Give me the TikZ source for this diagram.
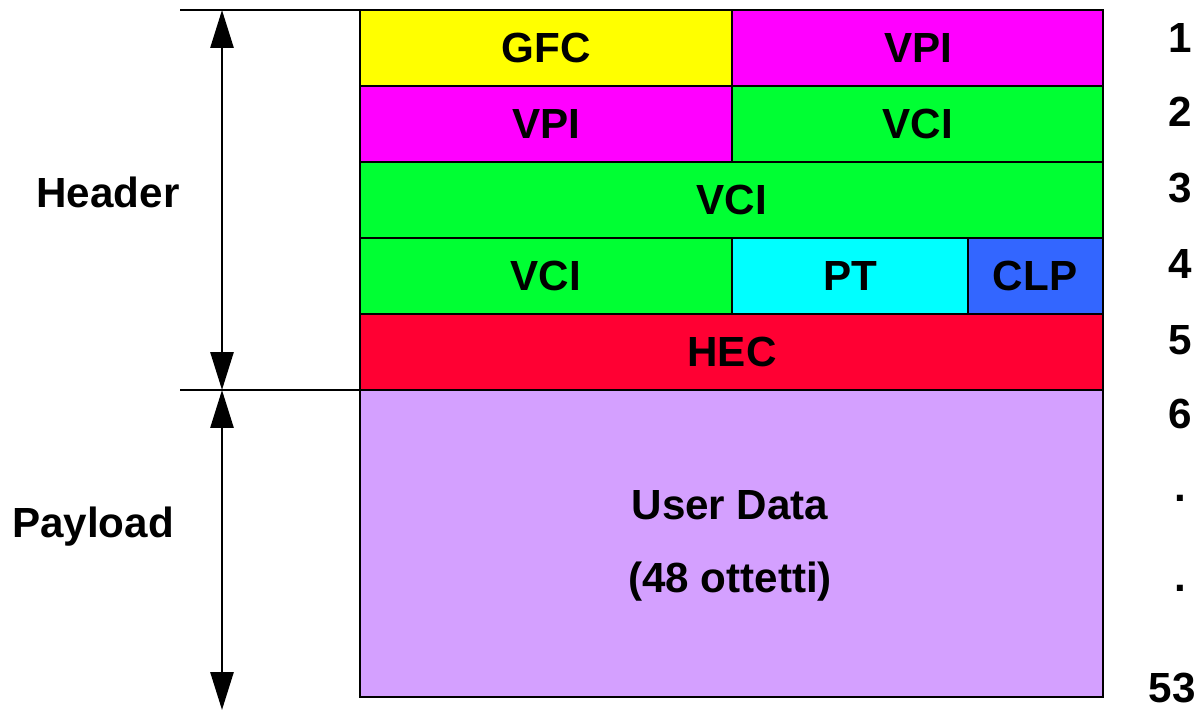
\documentclass[tikz,border=0pt]{standalone}
\usepackage{fontspec}
\setmainfont{Liberation Sans}
\usetikzlibrary{arrows.meta}
\definecolor{gfcyel}{RGB}{255,255,0}
\definecolor{vpimag}{RGB}{255,0,255}
\definecolor{vcigrn}{RGB}{0,255,51}
\definecolor{ptcyan}{RGB}{0,255,255}
\definecolor{clpblue}{RGB}{51,102,255}
\definecolor{hecred}{RGB}{255,0,51}
\definecolor{datalil}{RGB}{212,160,255}
\tikzset{
  field/.style={draw=black, line width=1.6pt},
  lbl/.style={font=\fontsize{24}{28}\selectfont\bfseries},
  dimarrow/.style={line width=1.6pt, {Triangle[length=0.76cm,width=0.46cm]}-{Triangle[length=0.76cm,width=0.46cm]}}
}
\begin{document}
\begin{tikzpicture}[x=0.02cm, y=-0.02cm]
\useasboundingbox (0,0) rectangle (1200,710);
% header rows
\draw[field, fill=gfcyel] (360,10) rectangle ++(372,76); \node[lbl] (gfc) at (546,48) {GFC};
\draw[field, fill=vpimag] (732,10) rectangle ++(371,76); \node[lbl] (vpia) at (918,48) {VPI};
\draw[field, fill=vpimag] (360,86) rectangle ++(372,76); \node[lbl] (vpib) at (546,124) {VPI};
\draw[field, fill=vcigrn] (732,86) rectangle ++(371,76); \node[lbl] (vcia) at (918,124) {VCI};
\draw[field, fill=vcigrn] (360,162) rectangle ++(743,76); \node[lbl] (vcib) at (732,200) {VCI};
\draw[field, fill=vcigrn] (360,238) rectangle ++(372,76); \node[lbl] (vcic) at (546,276) {VCI};
\draw[field, fill=ptcyan] (732,238) rectangle ++(236,76); \node[lbl] (pt) at (850,276) {PT};
\draw[field, fill=clpblue] (968,238) rectangle ++(135,76); \node[lbl] (clp) at (1035,276) {CLP};
\draw[field, fill=hecred] (360,314) rectangle ++(743,76); \node[lbl] (hec) at (732,352) {HEC};
% payload
\draw[field, fill=datalil] (360,390) rectangle ++(743,307);
\node[lbl] (udata) at (730,505) {User Data};
\node[lbl] (otto) at (730,582) {(48 ottetti)};
% octet numbers
\foreach \n/\y [count=\i] in {1/38,2/112,3/188,4/264,5/340,6/414,./498,./588}
  \node[lbl] (oct\i) at (1180,\y) {\n};
\node[lbl, inner sep=0pt] (oct9) at (1172,688) {53};
% dimension lines
\draw[line width=1.6pt] (180,10) -- (365,10);
\draw[line width=1.6pt] (180,390) -- (360,390);
\coordinate (htop) at (222,10);
\coordinate (hbot) at (222,390);
\coordinate (pbot) at (222,710);
\draw[dimarrow] (htop) -- (hbot);
\draw[dimarrow] (hbot) -- (pbot);
\node[lbl] (header) at (108,192) {Header};
\node[lbl] (payload) at (93,527) {Payload};
\end{tikzpicture}
\end{document}
